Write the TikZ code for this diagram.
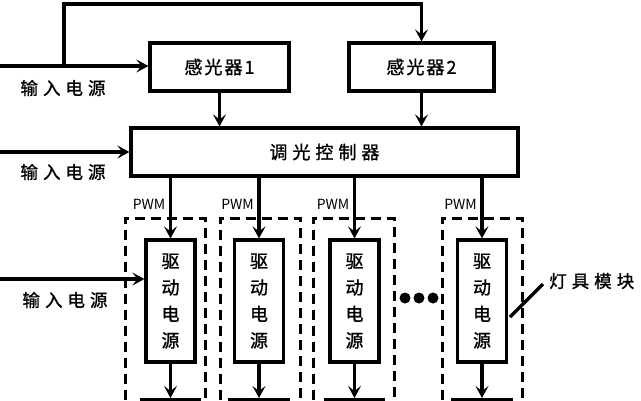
\documentclass[tikz,border=0pt]{standalone}
\usepackage{fontspec}
\setmainfont{Noto Sans CJK SC}[FakeBold=1.2]
\newfontfamily\pwmfont{Noto Sans CJK SC}
\usetikzlibrary{arrows.meta}
\newcommand{\gapp}{\hspace{5pt}}
\newcommand{\gapq}{\hspace{2pt}}
\tikzset{
  box/.style={draw, line width=3.2pt, inner sep=0pt, font=\fontsize{18}{20}\selectfont},
  arr/.style={line width=3.2pt, -{Stealth[length=12pt,width=13pt,inset=5pt]}},
  ln/.style={line width=3.2pt},
  grp/.style={draw, line width=3pt, dash pattern=on 10pt off 6pt},
  lbl/.style={font=\fontsize{17.5}{19}\selectfont, inner sep=0pt},
  pwm/.style={font=\pwmfont\fontsize{14}{15}\selectfont, inner sep=0pt, anchor=east},
}
\begin{document}
\begin{tikzpicture}[x=1pt,y=-1pt]
\useasboundingbox (0,0) rectangle (641,400);
\clip (0,0) rectangle (641,400);
% dashed groups
\draw[grp] (125,480) -- (125,218) -- (205,218) -- (205,480);
\draw[grp] (220,480) -- (220,218) -- (300,218) -- (300,480);
\draw[grp] (313,480) -- (313,218) -- (394,218) -- (394,480);
\draw[grp] (442,480) -- (442,218) -- (522,218) -- (522,480);
% main boxes
\node[box, minimum width=139pt, minimum height=48pt] (s1) at (219.5,67) {感\gapq 光\gapq 器\gapq 1};
\node[box, minimum width=145pt, minimum height=48pt] (s2) at (421.5,67) {感\gapq 光\gapq 器\gapq 2};
\node[box, minimum width=387pt, minimum height=48pt] (c) at (324.5,152) {调\gapp 光\gapp 控\gapp 制\gapp 器};
\foreach \n/\x in {1/170.5,2/259,3/354.5,4/482}{
  \node[box, minimum width=49pt, minimum height=122pt, align=center, font=\fontsize{18}{26.5}\selectfont] (d\n) at (\x,301) {驱\\动\\电\\源};
  \node[box, minimum width=58pt, minimum height=40pt, anchor=north] (b\n) at (\x,398) {};
  \draw[arr] (c.south -| d\n.north) -- (d\n.north);
  \draw[arr] (d\n.south) -- (b\n.north);
  \node[pwm] (p\n) at (\x-5,204) {PWM};
}
% inputs
\coordinate (i1) at (0,66);
\coordinate (i2) at (0,152);
\coordinate (i3) at (0,279);
\coordinate (j) at (64,66);
\coordinate (t1) at (64,4);
\coordinate (t2) at (s2.north |- 0,4);
\draw[arr] (i1) -- (i1 -| s1.west);
\draw[arr] (j) -- (t1) -- (t2) -- (s2.north);
\draw[arr] (i2) -- (i2 -| c.west);
\draw[arr] (i3) -- (i3 -| d1.west);
\node[lbl] (l1) at (63,88) {输\gapp 入\gapp 电\gapp 源};
\node[lbl] (l2) at (63,172) {输\gapp 入\gapp 电\gapp 源};
\node[lbl] (l3) at (65,300) {输\gapp 入\gapp 电\gapp 源};
% sensors to controller
\draw[arr] (s1.south) -- (s1.south |- c.north);
\draw[arr] (s2.south) -- (s2.south |- c.north);
% dots
\foreach \x in {405,419,433}{
  \fill (\x,298) circle (5.5pt);
}
% module label
\coordinate (m1) at (510,317);
\coordinate (m2) at (543,284);
\draw[ln] (m1) -- (m2);
\node[lbl, anchor=west] (ml) at (549,281) {灯\gapp 具\gapp 模\gapp 块};
\end{tikzpicture}
\end{document}
